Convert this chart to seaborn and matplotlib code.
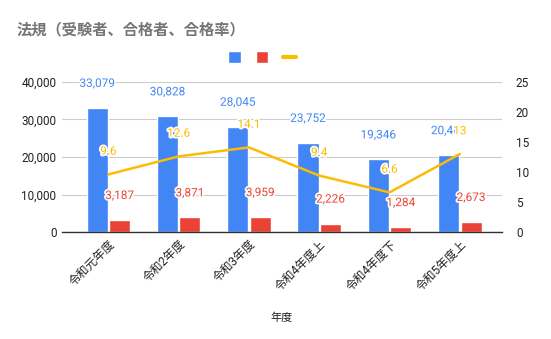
import matplotlib
matplotlib.use("Agg")
import matplotlib.pyplot as plt
import matplotlib.patheffects as pe
from matplotlib.patches import Patch
from matplotlib.lines import Line2D
import seaborn as sns
import pandas as pd

categories = ["令和元年度", "令和2年度", "令和3年度", "令和4年度上", "令和4年度下", "令和5年度上"]
examinees = [33079, 30828, 28045, 23752, 19346, 20469]
passers = [3187, 3871, 3959, 2226, 1284, 2673]
pass_rate = [9.6, 12.6, 14.1, 9.4, 6.6, 13]
rate_labels = ["9.6", "12.6", "14.1", "9.4", "6.6", "13"]

BLUE = "#4285F4"
RED = "#EA4335"
YELLOW = "#FBBC04"

sns.set_theme(style="white")
plt.rcParams["font.family"] = ["Roboto", "Noto Sans CJK JP", "DejaVu Sans"]

df = pd.DataFrame({
    "年度": categories * 2,
    "value": examinees + passers,
    "series": ["受験者"] * len(categories) + ["合格者"] * len(categories),
})
rate_df = pd.DataFrame({"年度": categories, "rate": pass_rate})

fig = plt.figure(figsize=(5.51, 3.39), dpi=100)
ax = fig.add_axes([62 / 551, 1 - 232 / 339, (502 - 62) / 551, (232 - 82) / 339])

sns.barplot(data=df, x="年度", y="value", hue="series", order=categories,
            hue_order=["受験者", "合格者"], palette=[BLUE, RED],
            width=0.64, gap=0.06, ax=ax, legend=False, saturation=1)

ax.set_ylim(0, 40000)
ax.set_yticks([0, 10000, 20000, 30000, 40000])
ax.set_yticklabels([f"{v:,}" for v in [0, 10000, 20000, 30000, 40000]])
ax.set_xlim(-0.66, 5.6)
ax.grid(axis="y", color="#cccccc", linewidth=0.8)
ax.set_axisbelow(True)
for s in ["top", "right", "left"]:
    ax.spines[s].set_visible(False)
ax.spines["bottom"].set_color("#333333")
ax.spines["bottom"].set_linewidth(1.0)
ax.tick_params(axis="both", length=0, labelsize=8.5, colors="#222222", pad=4)
ax.set_ylabel("")
ax.set_xlabel("年度", fontsize=8, color="#222222", labelpad=14)
ax.set_xticks(range(len(categories)))
ax.set_xticklabels(categories, rotation=45, ha="right", rotation_mode="anchor", fontsize=8.5)

halo = [pe.withStroke(linewidth=2.5, foreground="white")]

# bar labels
for cont, vals, col in zip(ax.containers, [examinees, passers], [BLUE, RED]):
    for rect, v in zip(cont, vals):
        ax.annotate(f"{v:,}", (rect.get_x() + rect.get_width() / 2, rect.get_height()),
                    xytext=(0, 13), textcoords="offset points", ha="center", va="bottom",
                    fontsize=8.5, color=col, path_effects=halo)

ax2 = ax.twinx()
sns.lineplot(data=rate_df, x="年度", y="rate", color=YELLOW, linewidth=1.8, ax=ax2,
             sort=False)
ax2.set_ylim(0, 25)
ax2.set_yticks([0, 5, 10, 15, 20, 25])
ax2.set_ylabel("")
ax2.set_xlabel("")
ax2.tick_params(axis="y", length=0, labelsize=8.5, colors="#222222", pad=10)
for s in ["top", "right", "left", "bottom"]:
    ax2.spines[s].set_visible(False)
ax2.set_xlim(-0.66, 5.6)
for i, (r, lab) in enumerate(zip(pass_rate, rate_labels)):
    ax2.annotate(lab, (i, r), xytext=(0, 12), textcoords="offset points",
                 ha="center", va="bottom", fontsize=8.5, color=YELLOW, path_effects=halo)

fig.text(17 / 551, 1 - 30 / 339, "法規（受験者、合格者、合格率）", fontsize=11,
         fontweight="bold", color="#757575", va="center", ha="left")

handles = [Patch(facecolor=BLUE), Patch(facecolor=RED),
           Line2D([], [], color=YELLOW, linewidth=3)]
fig.legend(handles, ["", "", ""], ncol=3, loc="center",
           bbox_to_anchor=(262 / 551, 1 - 58 / 339), frameon=False,
           handlelength=0.8, handleheight=0.8, columnspacing=1.0, handletextpad=0.0)

fig.savefig("out.png", dpi=100)
